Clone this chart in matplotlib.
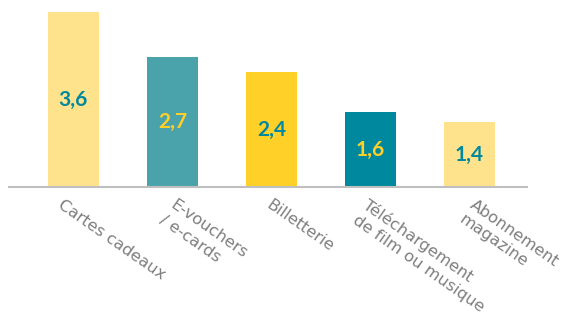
import matplotlib.pyplot as plt
import matplotlib.transforms as mtransforms

# Données du graphique
categories = ["Cartes cadeaux", "E-vouchers\n/ e-cards", "Billetterie",
              "Téléchargement\nde film ou musique", "Abonnement\nmagazine"]
valeurs = [3.6, 2.7, 2.4, 1.6, 1.4]
etiquettes = ["3,6", "2,7", "2,4", "1,6", "1,4"]

couleurs_barres = ["#FFE38C", "#4AA3AA", "#FFD027", "#00889E", "#FFE38C"]
couleurs_texte = ["#00889E", "#FFD027", "#00889E", "#FFD027", "#00889E"]

fig = plt.figure(figsize=(5.72, 3.21), dpi=100)
ax = fig.add_axes([9 / 572, 1 - 187 / 321, (527 - 9) / 572, 187 / 321])

x = range(len(categories))
y0 = 0.1
bars = ax.bar(x, valeurs, width=0.515, color=couleurs_barres)

ax.set_xlim(-0.65, 4.58)
ax.set_ylim(y0, 3.85)

# Valeurs au milieu des barres
for b, lab, c in zip(bars, etiquettes, couleurs_texte):
    y_mid = (b.get_height() + y0) / 2
    ax.text(b.get_x() + b.get_width() / 2, y_mid, lab, ha="center", va="center",
            color=c, fontsize=15, fontweight="bold", family="Lato")

for s in ["top", "right", "left"]:
    ax.spines[s].set_visible(False)
ax.spines["bottom"].set_color("#BFBFBF")
ax.spines["bottom"].set_linewidth(1.5)
ax.set_yticks([])

ax.set_xticks(list(x))
ax.set_xticklabels(categories, rotation=-35, ha="left", va="top",
                   rotation_mode="anchor", color="#7F7F7F", fontsize=11.7,
                   linespacing=1.3)
ax.tick_params(axis="x", length=0, pad=7)
# décalage horizontal des étiquettes (en pixels), comme dans Excel
decalages_px = [-9, 4, 1, -1, 6]
for t, dx in zip(ax.get_xticklabels(), decalages_px):
    d = mtransforms.ScaledTranslation(dx / 100, 0, fig.dpi_scale_trans)
    t.set_transform(t.get_transform() + d)

fig.savefig("out.png", dpi=100)
